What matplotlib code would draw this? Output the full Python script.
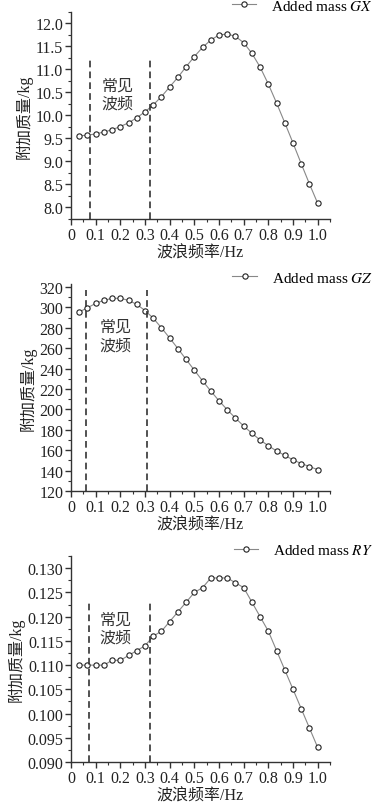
import matplotlib
matplotlib.use("Agg")
import matplotlib.pyplot as plt
from matplotlib.ticker import MultipleLocator

plt.rcParams['font.family'] = ['Liberation Serif', 'Noto Sans CJK SC']
plt.rcParams['mathtext.fontset'] = 'stix'

freq = [k / 30 for k in range(1, 31)]

mass_gx = [9.56, 9.57, 9.60, 9.64, 9.69, 9.76, 9.84, 9.95, 10.08, 10.23,
           10.41, 10.62, 10.83, 11.06, 11.28, 11.48, 11.64, 11.75, 11.77, 11.72,
           11.58, 11.35, 11.05, 10.68, 10.27, 9.84, 9.40, 8.95, 8.51, 8.09]
mass_gz = [295.6, 299.7, 304, 307, 309, 309, 307, 303, 297, 289.5,
           280, 270, 259.7, 249, 238.5, 228, 218, 208.5, 199.7, 191.5,
           183.7, 176.6, 170, 164.4, 159.3, 155, 150.5, 147, 144, 141]
mass_ry = [0.110, 0.110, 0.110, 0.110, 0.111, 0.111, 0.112, 0.113, 0.114, 0.116,
           0.117, 0.119, 0.121, 0.123, 0.125, 0.126, 0.128, 0.128, 0.128, 0.127,
           0.126, 0.123, 0.120, 0.117, 0.113, 0.109, 0.105, 0.101, 0.097, 0.093]

labels = ["Added mass $GX$", "Added mass $GZ$", "Added mass $RY$"]
x_ticks = [0, 0.1, 0.2, 0.3, 0.4, 0.5, 0.6, 0.7, 0.8, 0.9, 1.0]
x_tick_labels = ["0", "0.1", "0.2", "0.3", "0.4", "0.5", "0.6", "0.7", "0.8", "0.9", "1.0"]

y_ticks = [
    [8.0, 8.5, 9.0, 9.5, 10.0, 10.5, 11.0, 11.5, 12.0],
    [120, 140, 160, 180, 200, 220, 240, 260, 280, 300, 320],
    [0.090, 0.095, 0.100, 0.105, 0.110, 0.115, 0.120, 0.125, 0.130],
]
y_fmts = ["{:.1f}", "{:.0f}", "{:.3f}"]
ylims = [(7.75, 12.25), (120, 323), (0.090, 0.1325)]

# dashed lines marking the common wave band, and the note inside it
band_x = [(0.075, 0.32), (0.062, 0.308), (0.074, 0.32)]
band_top = [11.25, 317, 0.123]
note_xy = [(0.19, 10.45), (0.18, 272), (0.18, 0.1175)]

fig = plt.figure(figsize=(3.86, 8.04), dpi=100)
axes_boxes = [
    [0.184, 0.7264, 0.671, 0.2575],
    [0.184, 0.388, 0.671, 0.2575],
    [0.184, 0.051, 0.671, 0.256],
]

for i, series in enumerate([mass_gx, mass_gz, mass_ry]):
    ax = fig.add_axes(axes_boxes[i])
    ax.plot(freq, series, color='#888888', lw=0.8, marker='o', ms=3.8,
            mfc='white', mec='#222222', mew=0.8, label=labels[i])
    lo, hi = ylims[i]
    for xv in band_x[i]:
        ax.plot([xv, xv], [lo, band_top[i]], ls=(0, (4, 2.5)), color='#333333', lw=1.2)
    ax.text(note_xy[i][0], note_xy[i][1], "常见\n波频", ha='center', va='center',
            fontsize=11.5, linespacing=1.2, color='#333333')

    ax.set_xlim(0, 1.05)
    ax.set_ylim(lo, hi)
    ax.set_xticks(x_ticks)
    ax.set_xticklabels(x_tick_labels)
    ax.xaxis.set_minor_locator(MultipleLocator(0.05))
    ax.set_yticks(y_ticks[i])
    ax.set_yticklabels([y_fmts[i].format(v) for v in y_ticks[i]])
    ax.yaxis.set_minor_locator(MultipleLocator((y_ticks[i][1] - y_ticks[i][0]) / 2))

    for s in ['top', 'right']:
        ax.spines[s].set_visible(False)
    for s in ['left', 'bottom']:
        ax.spines[s].set_linewidth(1.0)
        ax.spines[s].set_color('#333333')
    ax.tick_params(which='major', direction='out', length=4, width=1.0,
                   labelsize=11.5, colors='#333333', labelcolor='#222222', pad=1.5)
    ax.tick_params(which='minor', direction='out', length=2.2, width=0.8, colors='#333333')

    ax.set_xlabel("波浪频率/Hz", fontsize=11.5, labelpad=1.5, color='#222222')
    ax.set_ylabel("附加质量/kg", fontsize=11.5, labelpad=2, color='#222222')
    ax.legend(loc='center right', bbox_to_anchor=(1.19, 1.03), frameon=False,
              fontsize=11, handlelength=1.6, handletextpad=1.0, borderaxespad=0)

fig.savefig("out.png", dpi=100)
